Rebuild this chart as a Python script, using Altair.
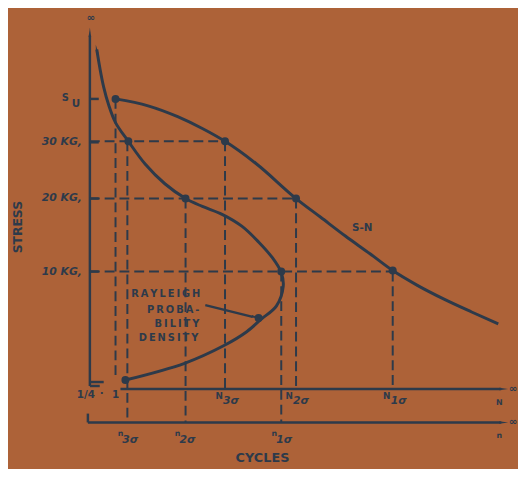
import altair as alt
import pandas as pd

BG = "#ad6238"
INK = "#2d3a4a"
FONT = "DejaVu Sans"
TS = "\u2009"  # thin space for the widely tracked lettering

# ---- data (page pixel coordinates; y grows downward) ----
sn_x = [117, 150, 180, 205, 228, 260, 300, 325, 350, 375, 398, 423, 450, 478, 505]
sn_y = [97, 104, 115, 127, 140, 163, 198, 217, 236, 254, 271, 286, 300, 313, 325]

ray_x = [98, 101, 105, 110, 117, 130, 147, 167, 188, 205, 225, 245, 262, 276, 285, 287, 280, 265, 250, 227, 187, 127]
ray_y = [47, 65, 85, 103, 121, 140, 163, 183, 198, 206, 214, 226, 242, 258, 273, 287, 307, 320, 333, 347, 365, 382]

dot_x = [117, 130, 228, 188, 300, 285, 398, 262, 127]
dot_y = [97, 140, 140, 198, 198, 272, 271, 319, 382]

dash_x1 = [91, 91, 91, 117, 129, 188, 228, 300, 398, 285]
dash_y1 = [140, 198, 272, 97, 140, 198, 140, 198, 272, 272]
dash_x2 = [228, 300, 398, 117, 129, 188, 228, 300, 398, 285]
dash_y2 = [140, 198, 272, 378, 425, 425, 391, 391, 391, 425]

rule_x1 = [91, 91, 91, 122, 89, 89, 91, 91, 91, 91, 208]
rule_y1 = [33, 384, 388, 391, 425, 416, 97, 141, 198, 272, 306]
rule_x2 = [91, 105, 101, 508, 508, 89, 100, 100, 100, 100, 256]
rule_y2 = [388, 384, 388, 391, 425, 425, 97, 141, 198, 272, 318]

arrow_x = [91, 98, 509, 509, 258]
arrow_y = [31, 48, 391, 425, 318]
arrow_angle = [0, 350, 90, 90, 104]

ylab_text = ["30 KG,", "20 KG,", "10 KG,"]
ylab_y = [141, 197, 272]

main_text = ["S", "N", "N", "N", "N", "n", "n", "n", "n"]
main_x = [66, 222, 293, 392, 506, 122, 180, 278, 506]
main_y = [96, 398, 398, 398, 405, 437, 437, 437, 439]
main_size = [10, 9, 9, 9, 8, 8, 8, 8, 8]

sub_text = ["3σ", "2σ", "1σ", "3σ", "2σ", "1σ"]
sub_x = [234, 305, 404, 132, 190, 288]
sub_y = [403, 403, 403, 443, 443, 443]

misc_text = ["U", "1/4", "·", "1", "∞", "∞", "∞", "S-N"]
misc_x = [77, 87, 103, 117, 92, 520, 520, 367]
misc_y = [102, 397, 396, 397, 15, 391, 425, 228]

ray_text = ["RAYLEIGH", "PROBA-", "BILITY", "DENSITY"]
ray_tx = [203, 202, 202, 201]
ray_ty = [295, 311, 325, 339]

# ---- scales: the plot area covers the page inside its 8px margin ----
xs = alt.Scale(domain=[8, 518], nice=False, zero=False)
ys = alt.Scale(domain=[8, 469], nice=False, zero=False, reverse=True)


def X(f):
    return alt.X(f, type="quantitative", scale=xs, axis=None)


def Y(f):
    return alt.Y(f, type="quantitative", scale=ys, axis=None)


sn = pd.DataFrame({"x": sn_x, "y": sn_y, "o": range(len(sn_x))})
ray = pd.DataFrame({"x": ray_x, "y": ray_y, "o": range(len(ray_x))})
dots = pd.DataFrame({"x": dot_x, "y": dot_y})
dashes = pd.DataFrame({"x": dash_x1, "y": dash_y1, "x2": dash_x2, "y2": dash_y2})
rules = pd.DataFrame({"x": rule_x1, "y": rule_y1, "x2": rule_x2, "y2": rule_y2})
arrows = pd.DataFrame({"x": arrow_x, "y": arrow_y, "a": arrow_angle})
ylabs = pd.DataFrame({"t": ylab_text, "x": [83] * 3, "y": ylab_y})
mains = pd.DataFrame({"t": main_text, "x": main_x, "y": main_y, "s": main_size})
subs = pd.DataFrame({"t": sub_text, "x": sub_x, "y": sub_y})
misc = pd.DataFrame({"t": misc_text, "x": misc_x, "y": misc_y})
rays = pd.DataFrame({"t": [TS.join(w) for w in ray_text], "x": ray_tx, "y": ray_ty})

sn_line = alt.Chart(sn).mark_line(color=INK, strokeWidth=3, interpolate="monotone").encode(
    x=X("x"), y=Y("y"), order="o:Q")
ray_line = alt.Chart(ray).mark_line(color=INK, strokeWidth=3, interpolate="catmull-rom").encode(
    x=X("x"), y=Y("y"), order="o:Q")
dash_l = alt.Chart(dashes).mark_rule(color=INK, strokeWidth=2, strokeDash=[10, 5]).encode(
    x=X("x"), y=Y("y"), x2="x2", y2="y2")
rule_l = alt.Chart(rules).mark_rule(color=INK, strokeWidth=2.5).encode(
    x=X("x"), y=Y("y"), x2="x2", y2="y2")
dot_l = alt.Chart(dots).mark_circle(color=INK, size=65, opacity=1).encode(x=X("x"), y=Y("y"))
arrow_l = alt.Chart(arrows).mark_point(shape="wedge", filled=True, color=INK, size=110, opacity=1).encode(
    x=X("x"), y=Y("y"), angle=alt.Angle("a:Q", scale=None))

ylab_l = alt.Chart(ylabs).mark_text(font=FONT, fontWeight="bold", fontSize=11, color=INK,
                                    align="right", baseline="middle", fontStyle="italic").encode(
    x=X("x"), y=Y("y"), text="t:N")
main_l = alt.Chart(mains).mark_text(font=FONT, fontWeight="bold", color=INK,
                                    align="center", baseline="middle").encode(
    x=X("x"), y=Y("y"), text="t:N", size=alt.Size("s:Q", scale=None))
sub_l = alt.Chart(subs).mark_text(font=FONT, fontWeight="bold", fontSize=11, color=INK,
                                  align="center", baseline="middle", fontStyle="italic").encode(
    x=X("x"), y=Y("y"), text="t:N")
misc_l = alt.Chart(misc).mark_text(font=FONT, fontWeight="bold", fontSize=10.5, color=INK,
                                   align="center", baseline="middle").encode(
    x=X("x"), y=Y("y"), text="t:N")
ray_l = alt.Chart(rays).mark_text(font=FONT, fontWeight="bold", fontSize=10, color=INK,
                                  align="right", baseline="middle").encode(
    x=X("x"), y=Y("y"), text="t:N")

stress = alt.Chart(pd.DataFrame({"t": ["STRESS"], "x": [18], "y": [227]})).mark_text(
    font=FONT, fontWeight="bold", fontSize=12.5, color=INK, angle=270,
    align="center", baseline="middle").encode(x=X("x"), y=Y("y"), text="t:N")
cycles = alt.Chart(pd.DataFrame({"t": ["CYCLES"], "x": [266], "y": [461]})).mark_text(
    font=FONT, fontWeight="bold", fontSize=13, color=INK,
    align="center", baseline="middle").encode(x=X("x"), y=Y("y"), text="t:N")

chart = alt.layer(
    dash_l, rule_l, sn_line, ray_line, dot_l, arrow_l,
    ylab_l, main_l, sub_l, misc_l, ray_l, stress, cycles,
).properties(
    width=510, height=461, background=BG, padding=0,
).configure_view(stroke=None)

chart.save("out.html", embed_options={"renderer": "svg", "actions": False})
